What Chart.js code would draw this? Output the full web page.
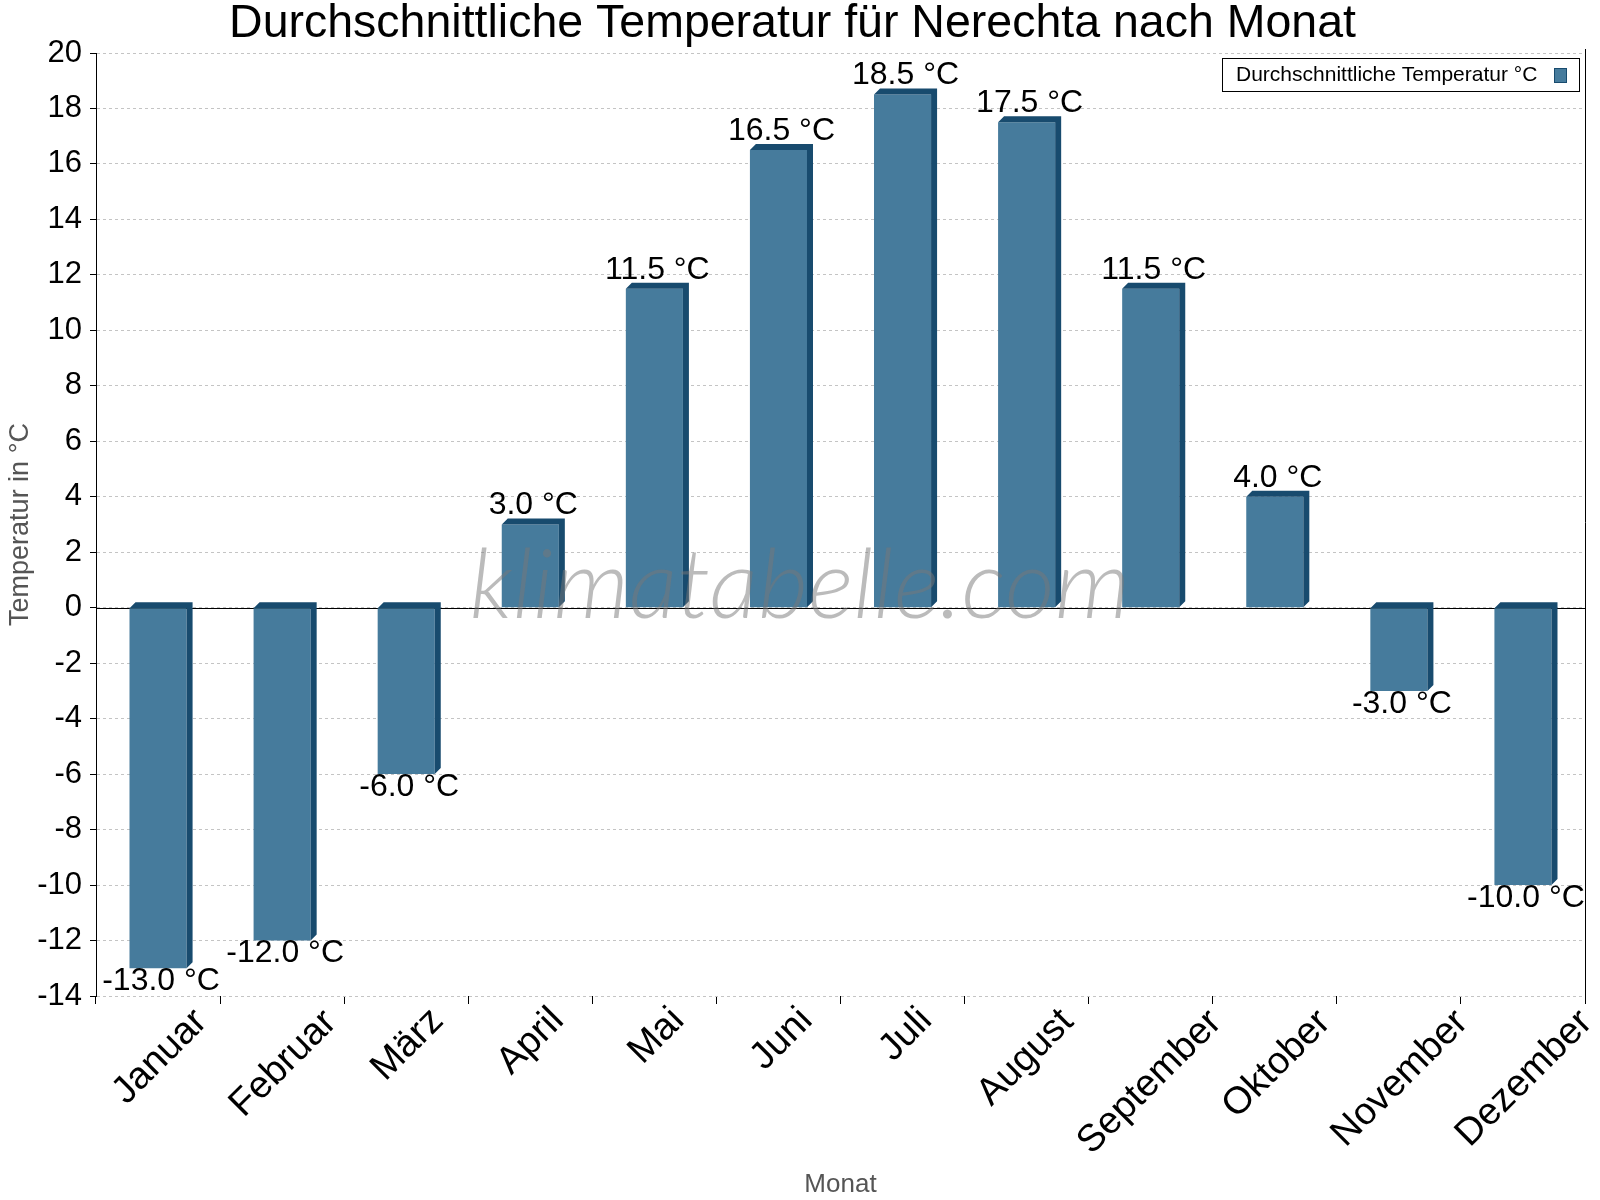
<!DOCTYPE html>
<html>
<head>
<meta charset="utf-8">
<script src="https://cdn.jsdelivr.net/npm/chart.js@4.4.1/dist/chart.umd.min.js"></script>
<style>
  html, body { margin: 0; padding: 0; background: #fff; }
  #wrap { width: 1600px; height: 1200px; }
</style>
</head>
<body>
<div id="wrap"><canvas id="tempChart" width="1600" height="1200"></canvas></div>
<script>
const months = ['Januar', 'Februar', 'März', 'April', 'Mai', 'Juni', 'Juli', 'August', 'September', 'Oktober', 'November', 'Dezember'];
const avgTemp = [-13.0, -12.0, -6.0, 3.0, 11.5, 16.5, 18.5, 17.5, 11.5, 4.0, -3.0, -10.0];
const yMin = -14;
const yMax = 20;
const yStep = 2;

const FONT = '"Liberation Sans", Arial, sans-serif';
const frontColor = '#467b9c';
const sideColor = '#184b6e';
const depth = 6;

// zero line + right frame line, drawn behind the bars
const framePlugin = {
    id: 'frame',
    beforeDatasetsDraw(chart) {
        const ctx = chart.ctx;
        const area = chart.chartArea;
        const y0 = chart.scales.y.getPixelForValue(0);
        ctx.save();
        ctx.strokeStyle = '#000';
        ctx.lineWidth = 1;
        ctx.beginPath();
        ctx.moveTo(area.left, Math.round(y0) + 0.5);
        ctx.lineTo(area.right, Math.round(y0) + 0.5);
        ctx.moveTo(Math.round(area.right) + 0.5, area.top - 4);
        ctx.lineTo(Math.round(area.right) + 0.5, area.bottom);
        ctx.stroke();
        ctx.restore();
    }
};

// month labels: rotated 45deg, box centred under each category
const monthLabelPlugin = {
    id: 'monthLabels',
    afterDraw(chart) {
        const ctx = chart.ctx;
        const xs = chart.scales.x;
        const topY = xs.top + 8;
        const r = Math.SQRT1_2;
        ctx.save();
        ctx.fillStyle = '#000';
        ctx.font = '38px ' + FONT;
        ctx.textAlign = 'left';
        ctx.textBaseline = 'alphabetic';
        chart.data.labels.forEach((lbl, i) => {
            const m = ctx.measureText(lbl);
            const w = m.actualBoundingBoxLeft + m.actualBoundingBoxRight;
            const asc = m.actualBoundingBoxAscent;
            const desc = m.actualBoundingBoxDescent;
            const cx = xs.getPixelForTick(i);
            const cy = topY + (w + asc + desc) * r / 2;
            ctx.save();
            ctx.translate(cx, cy);
            ctx.rotate(-Math.PI / 4);
            ctx.fillText(lbl, -w / 2 + m.actualBoundingBoxLeft, (asc - desc) / 2);
            ctx.restore();
        });
        ctx.restore();
    }
};

// fake 3d top/side faces and value labels
const boxPlugin = {
    id: 'box3d',
    afterDatasetsDraw(chart) {
        const ctx = chart.ctx;
        const meta = chart.getDatasetMeta(0);
        ctx.save();
        meta.data.forEach((bar, i) => {
            const p = bar.getProps(['x', 'y', 'base', 'width'], true);
            const x0 = p.x - p.width / 2;
            const x1 = p.x + p.width / 2;
            const top = Math.min(p.y, p.base);
            const bottom = Math.max(p.y, p.base);
            ctx.fillStyle = sideColor;
            ctx.beginPath();
            ctx.moveTo(x0, top);
            ctx.lineTo(x0 + depth, top - depth);
            ctx.lineTo(x1 + depth, top - depth);
            ctx.lineTo(x1 + depth, bottom - depth);
            ctx.lineTo(x1, bottom);
            ctx.lineTo(x1, top);
            ctx.closePath();
            ctx.fill();

            const v = avgTemp[i];
            ctx.fillStyle = '#000';
            ctx.font = '32px ' + FONT;
            ctx.textAlign = 'center';
            const txt = v.toFixed(1) + ' °C';
            if (v >= 0) {
                ctx.textBaseline = 'bottom';
                ctx.fillText(txt, p.x + depth / 2, top - depth + 3);
            } else {
                ctx.textBaseline = 'top';
                ctx.fillText(txt, p.x + depth / 2, bottom - 3);
            }
        });
        ctx.restore();
    },
    afterDraw(chart) {
        const ctx = chart.ctx;
        ctx.save();
        // watermark
        ctx.font = 'italic 300 97px Lato, ' + FONT;
        ctx.fillStyle = 'rgba(120,120,120,0.5)';
        ctx.textAlign = 'center';
        ctx.textBaseline = 'alphabetic';
        ctx.fillText('klimatabelle.com', 800, 618);

        // legend
        ctx.fillStyle = '#fff';
        ctx.fillRect(1222.5, 58.5, 357, 33);
        ctx.strokeStyle = '#000';
        ctx.lineWidth = 1;
        ctx.strokeRect(1222.5, 58.5, 357, 33);
        ctx.fillStyle = '#000';
        ctx.font = '21px ' + FONT;
        ctx.textAlign = 'left';
        ctx.textBaseline = 'middle';
        ctx.fillText(chart.data.datasets[0].label, 1236, 75);
        ctx.fillStyle = frontColor;
        ctx.fillRect(1554.5, 68.5, 12, 14);
        ctx.strokeStyle = sideColor;
        ctx.strokeRect(1554.5, 68.5, 12, 14);
        ctx.restore();
    }
};

const ctx = document.getElementById('tempChart').getContext('2d');
const tempChart = new Chart(ctx, {
    type: 'bar',
    data: {
        labels: months,
        datasets: [{
            label: 'Durchschnittliche Temperatur °C',
            data: avgTemp,
            backgroundColor: frontColor,
            borderWidth: 0,
            categoryPercentage: 1.0,
            barPercentage: 0.46
        }]
    },
    options: {
        responsive: false,
        animation: false,
        devicePixelRatio: 1,
        layout: { padding: { left: 0, right: 15, top: 0, bottom: 0 } },
        plugins: {
            legend: { display: false },
            tooltip: { enabled: false },
            title: {
                display: true,
                text: 'Durchschnittliche Temperatur für Nerechta nach Monat',
                color: '#000',
                font: { family: FONT, size: 46.5, weight: 'normal', lineHeight: 1 },
                padding: { top: 1, bottom: 5.5 }
            }
        },
        scales: {
            x: {
                afterFit(scale) { scale.height = 204; },
                border: { display: false },
                grid: {
                    display: true,
                    drawOnChartArea: false,
                    drawTicks: true,
                    tickLength: 8,
                    tickColor: '#000',
                    offset: true
                },
                ticks: {
                    display: false,
                    autoSkip: false
                },
                title: {
                    display: true,
                    text: 'Monat',
                    color: '#555',
                    font: { family: FONT, size: 26 },
                    padding: { top: 0, bottom: 0 }
                }
            },
            y: {
                min: yMin,
                max: yMax,
                afterFit(scale) { scale.width = 96; },
                border: { display: true, color: '#000', width: 1, dash: [3, 3] },
                grid: {
                    color: '#c4c4c4',
                    lineWidth: 1,
                    tickLength: 6,
                    tickColor: '#000',
                    tickBorderDash: []
                },
                ticks: {
                    stepSize: yStep,
                    color: '#000',
                    font: { family: FONT, size: 31 },
                    padding: 8
                },
                title: {
                    display: true,
                    text: 'Temperatur in °C',
                    color: '#555',
                    font: { family: FONT, size: 27 },
                    padding: { top: 4, bottom: 0 }
                }
            }
        }
    },
    plugins: [framePlugin, boxPlugin, monthLabelPlugin]
});
</script>
</body>
</html>
